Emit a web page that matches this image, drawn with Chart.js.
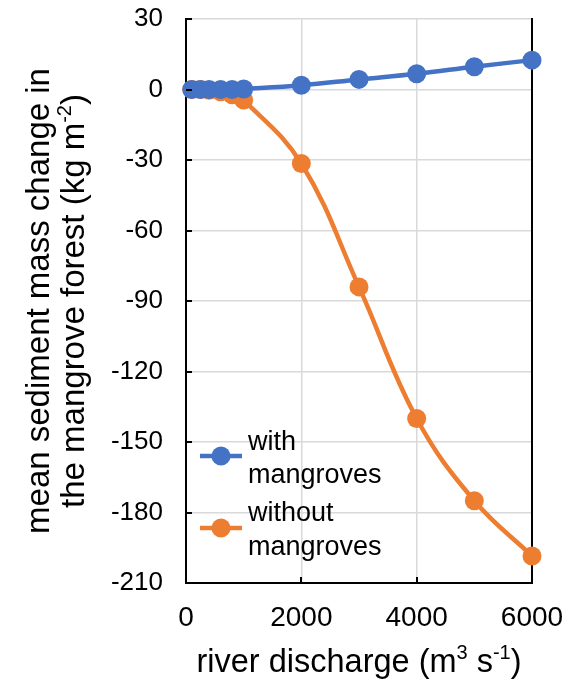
<!DOCTYPE html>
<html>
<head>
<meta charset="utf-8">
<script src="https://cdn.jsdelivr.net/npm/chart.js@4.4.1/dist/chart.umd.min.js"></script>
<style>
  html, body { margin: 0; padding: 0; background: #fff; }
  #wrap { width: 565px; height: 681px; position: relative; }
</style>
</head>
<body>
<div id="wrap"><canvas id="c" width="565" height="681"></canvas></div>
<script>
// River discharge (m3 s-1) for each model run
const discharge = [100, 250, 400, 600, 800, 1000, 2000, 3000, 4000, 5000, 6000];
// Mean sediment mass change in the mangrove forest (kg m-2)
const withMangroves = [0, 0, 0, 0, 0, 0.2, 1.8, 4.3, 6.7, 9.7, 12.5];
const withoutMangroves = [0, 0, -0.3, -1, -2.2, -4.5, -31.5, -84, -140, -175, -198.5];

const seriesNames = [['with', 'mangroves'], ['without', 'mangroves']];
const seriesColors = ['#4472C4', '#ED7D31'];

const xTicks = [0, 2000, 4000, 6000];
const yMin = -210, yMax = 30, yStep = 30;

const FONT = '"Liberation Sans", Arial, sans-serif';

function toPoints(xs, ys) {
  return xs.map((x, i) => ({ x: x, y: ys[i] }));
}

// Draws a run of text pieces, some of them raised as superscripts, centred on (cx, cy)
function drawRich(ctx, parts, cx, cy, size, angle) {
  ctx.save();
  ctx.translate(cx, cy);
  ctx.rotate(angle);
  const supSize = Math.round(size * 0.62);
  let total = 0;
  parts.forEach(p => {
    ctx.font = (p.sup ? supSize : size) + 'px ' + FONT;
    p.w = ctx.measureText(p.t).width;
    total += p.w;
  });
  let x = -total / 2;
  ctx.textBaseline = 'alphabetic';
  ctx.textAlign = 'left';
  ctx.fillStyle = '#000';
  const base = size * 0.36;
  parts.forEach(p => {
    ctx.font = (p.sup ? supSize : size) + 'px ' + FONT;
    ctx.fillText(p.t, x, p.sup ? base - size * 0.38 : base);
    x += p.w;
  });
  ctx.restore();
}

const decorations = {
  id: 'decorations',
  afterDraw(chart) {
    const ctx = chart.ctx;
    const area = chart.chartArea;
    const xs = chart.scales.x, ys = chart.scales.y;

    // inward tick marks on both axes
    ctx.save();
    ctx.strokeStyle = '#000';
    ctx.lineWidth = 2;
    ctx.beginPath();
    for (let v = yMin; v <= yMax; v += yStep) {
      const py = Math.round(ys.getPixelForValue(v));
      ctx.moveTo(area.left, py);
      ctx.lineTo(area.left + 6, py);
    }
    xTicks.forEach(v => {
      const px = Math.round(xs.getPixelForValue(v));
      ctx.moveTo(px, area.bottom);
      ctx.lineTo(px, area.bottom - 6);
    });
    ctx.stroke();
    ctx.restore();

    // axis titles
    drawRich(ctx, [
      { t: 'river discharge (m' }, { t: '3', sup: true }, { t: ' s' }, { t: '-1', sup: true }, { t: ')' }
    ], (area.left + area.right) / 2, 660, 32.5, 0);
    const midY = (area.top + area.bottom) / 2;
    drawRich(ctx, [{ t: 'mean sediment mass change in' }], 37, midY, 33, -Math.PI / 2);
    drawRich(ctx, [
      { t: 'the mangrove forest (kg m' }, { t: '-2', sup: true }, { t: ')' }
    ], 72, midY, 33, -Math.PI / 2);

    // legend
    const rows = [[456, 443, 476], [528, 514, 548]];
    chart.data.datasets.forEach((ds, i) => {
      const [ly, t1, t2] = rows[i];
      ctx.save();
      ctx.strokeStyle = ds.borderColor;
      ctx.lineWidth = 4.5;
      ctx.beginPath();
      ctx.moveTo(area.left + 14, ly);
      ctx.lineTo(area.left + 56, ly);
      ctx.stroke();
      ctx.fillStyle = ds.backgroundColor;
      ctx.beginPath();
      ctx.arc(area.left + 35, ly, 9.5, 0, Math.PI * 2);
      ctx.fill();
      ctx.fillStyle = '#000';
      ctx.font = '27px ' + FONT;
      ctx.textBaseline = 'middle';
      ctx.textAlign = 'left';
      ctx.fillText(seriesNames[i][0], area.left + 62, t1);
      ctx.fillText(seriesNames[i][1], area.left + 62, t2);
      ctx.restore();
    });
  }
};

function datasetStyle(color) {
  return {
    borderColor: color,
    backgroundColor: color,
    showLine: true,
    borderWidth: 4.5,
    pointRadius: 9.5,
    pointHoverRadius: 9.5,
    pointBorderWidth: 0,
    tension: 0.4,
    clip: false
  };
}

new Chart(document.getElementById('c'), {
  type: 'scatter',
  data: {
    datasets: [
      Object.assign({ label: seriesNames[0].join(' '), data: toPoints(discharge, withMangroves) }, datasetStyle(seriesColors[0])),
      Object.assign({ label: seriesNames[1].join(' '), data: toPoints(discharge, withoutMangroves) }, datasetStyle(seriesColors[1]))
    ]
  },
  options: {
    responsive: false,
    animation: false,
    devicePixelRatio: 1,
    layout: { padding: { left: 0, right: 33, top: 19, bottom: 0 } },
    plugins: { legend: { display: false }, tooltip: { enabled: false } },
    scales: {
      x: {
        type: 'linear',
        min: 0,
        max: 6000,
        afterBuildTicks(s) { s.ticks = xTicks.map(v => ({ value: v })); },
        afterFit(s) { s.height = 98; s.paddingLeft = 0; s.paddingRight = 0; },
        grid: { color: '#d9d9d9', lineWidth: 1.5, drawTicks: false },
        border: { color: '#000', width: 2 },
        ticks: {
          color: '#000', font: { family: FONT, size: 28 }, padding: 18, maxRotation: 0,
          callback: v => String(v)
        }
      },
      y: {
        type: 'linear',
        min: yMin,
        max: yMax,
        afterFit(s) { s.width = 186; s.paddingTop = 0; s.paddingBottom = 0; },
        grid: { color: '#d9d9d9', lineWidth: 1.5, drawTicks: false },
        border: { color: '#000', width: 2 },
        ticks: { stepSize: yStep, color: '#000', font: { family: FONT, size: 26 }, padding: 23 }
      },
      y2: {
        type: 'linear',
        position: 'right',
        min: yMin,
        max: yMax,
        afterFit(s) { s.width = 0; s.paddingTop = 0; s.paddingBottom = 0; },
        grid: { drawOnChartArea: false, drawTicks: false },
        border: { color: '#000', width: 2 },
        ticks: { display: false }
      }
    }
  },
  plugins: [decorations]
});
</script>
</body>
</html>
